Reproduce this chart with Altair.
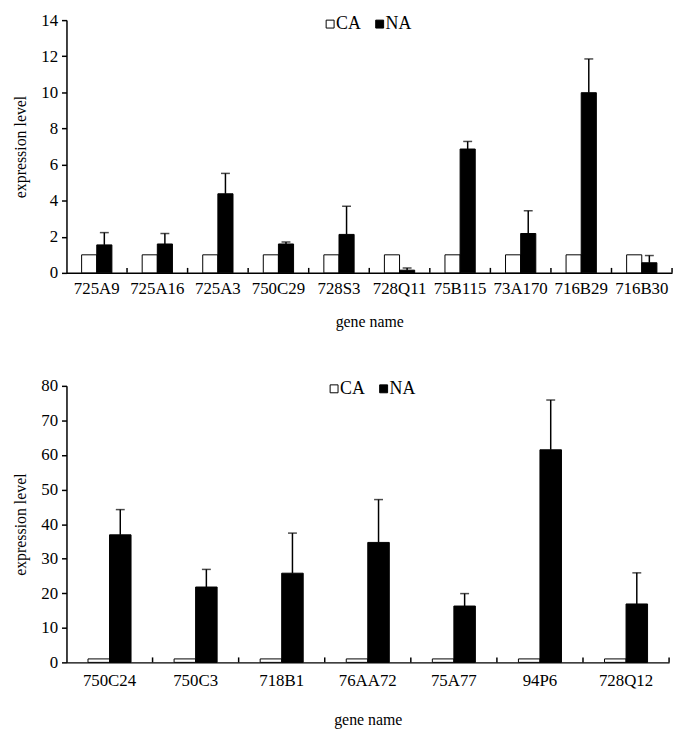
import altair as alt
import pandas as pd

# ---- data ----
series = ["CA", "NA"]

genes_top = ["725A9", "725A16", "725A3", "750C29", "728S3", "728Q11",
             "75B115", "73A170", "716B29", "716B30"]
ca_top = [1, 1, 1, 1, 1, 1, 1, 1, 1, 1]
na_top = [1.55, 1.60, 4.38, 1.60, 2.13, 0.15, 6.86, 2.18, 9.98, 0.56]
sd_top = [0.68, 0.58, 1.13, 0.11, 1.56, 0.12, 0.42, 1.26, 1.87, 0.40]

genes_bot = ["750C24", "750C3", "718B1", "76AA72", "75A77", "94P6", "728Q12"]
ca_bot = [1, 1, 1, 1, 1, 1, 1]
na_bot = [36.9, 21.8, 25.8, 34.7, 16.3, 61.5, 16.9]
sd_bot = [7.3, 5.1, 11.6, 12.4, 3.6, 14.4, 9.0]

FONT = "Liberation Serif"


def panel(genes, ca, na, sd, ymax, ystep, width, height, lx, ly,
          label_pad, title_pad):
    rows = []
    for g, c, n in zip(genes, ca, na):
        rows.append({"gene": g, "series": "CA", "value": c})
        rows.append({"gene": g, "series": "NA", "value": n})
    df = pd.DataFrame(rows)
    err = pd.DataFrame({"gene": genes, "series": ["NA"] * len(genes),
                        "lo": na, "hi": [n + s for n, s in zip(na, sd)]})
    gdf = pd.DataFrame({"gene": genes})

    xscale = alt.Scale(domain=genes, paddingInner=0, paddingOuter=0)
    oscale = alt.Scale(domain=series, paddingInner=0, paddingOuter=1)
    yscale = alt.Scale(domain=[0, ymax], nice=False)
    yaxis = alt.Axis(values=list(range(0, ymax + 1, ystep)),
                     title="expression level", grid=False,
                     labelOverlap=False, labelFlush=False,
                     titlePadding=12, labelPadding=4)
    xaxis = alt.Axis(title="gene name", ticks=False, labelAngle=0,
                     labelPadding=label_pad, titlePadding=title_pad)

    x = alt.X("gene:N", sort=genes, scale=xscale, axis=xaxis)
    xo = alt.XOffset("series:N", sort=series, scale=oscale)

    bars = alt.Chart(df).mark_bar(stroke="black", strokeWidth=1).encode(
        x=x, xOffset=xo,
        y=alt.Y("value:Q", scale=yscale, axis=yaxis),
        fill=alt.Fill("series:N", sort=series,
                      scale=alt.Scale(domain=series, range=["white", "black"]),
                      legend=alt.Legend(title=None, orient="none",
                                        legendX=lx, legendY=ly,
                                        direction="horizontal",
                                        symbolType="square", symbolSize=64,
                                        symbolStrokeColor="black",
                                        symbolStrokeWidth=1,
                                        labelFont=FONT, labelFontSize=18,
                                        labelColor="black",
                                        labelOffset=alt.ExprRef(expr="-3"),
                                        columnPadding=9)),
    )
    rule = alt.Chart(err).mark_rule(color="black", strokeWidth=1.5).encode(
        x=x, xOffset=xo,
        y=alt.Y("lo:Q", scale=yscale, axis=yaxis), y2="hi:Q")
    cap = alt.Chart(err).mark_tick(color="black", thickness=1.5, size=9).encode(
        x=x, xOffset=xo,
        y=alt.Y("hi:Q", scale=yscale, axis=yaxis))
    ticks = alt.Chart(gdf).mark_rule(color="black", strokeWidth=1.5).encode(
        x=alt.X("gene:N", sort=genes, scale=xscale, axis=xaxis, bandPosition=1),
        y=alt.value(height - 5), y2=alt.value(height))
    return alt.layer(bars, rule, cap, ticks).properties(width=width, height=height)


top = panel(genes_top, ca_top, na_top, sd_top, 14, 2, 611, 255, 257, -5, 8, 17)
bot = panel(genes_bot, ca_bot, na_bot, sd_bot, 80, 10, 608, 279, 261, -6, 10, 24)

chart = alt.vconcat(top, bot, spacing=48).resolve_scale(
    fill="independent", x="independent", y="independent",
    xOffset="independent").resolve_legend(fill="independent").configure_view(
    stroke=None).configure_axis(
    labelFont=FONT, labelFontSize=17, labelColor="black",
    titleFont=FONT, titleFontSize=16, titleFontWeight="normal",
    titleColor="black", domainColor="black", domainWidth=1.5,
    tickColor="black", tickWidth=1.5, tickSize=5).properties(
    padding={"left": 5, "top": 0, "right": 5, "bottom": 0})

chart.save("out.html", embed_options={"renderer": "svg", "actions": False})
